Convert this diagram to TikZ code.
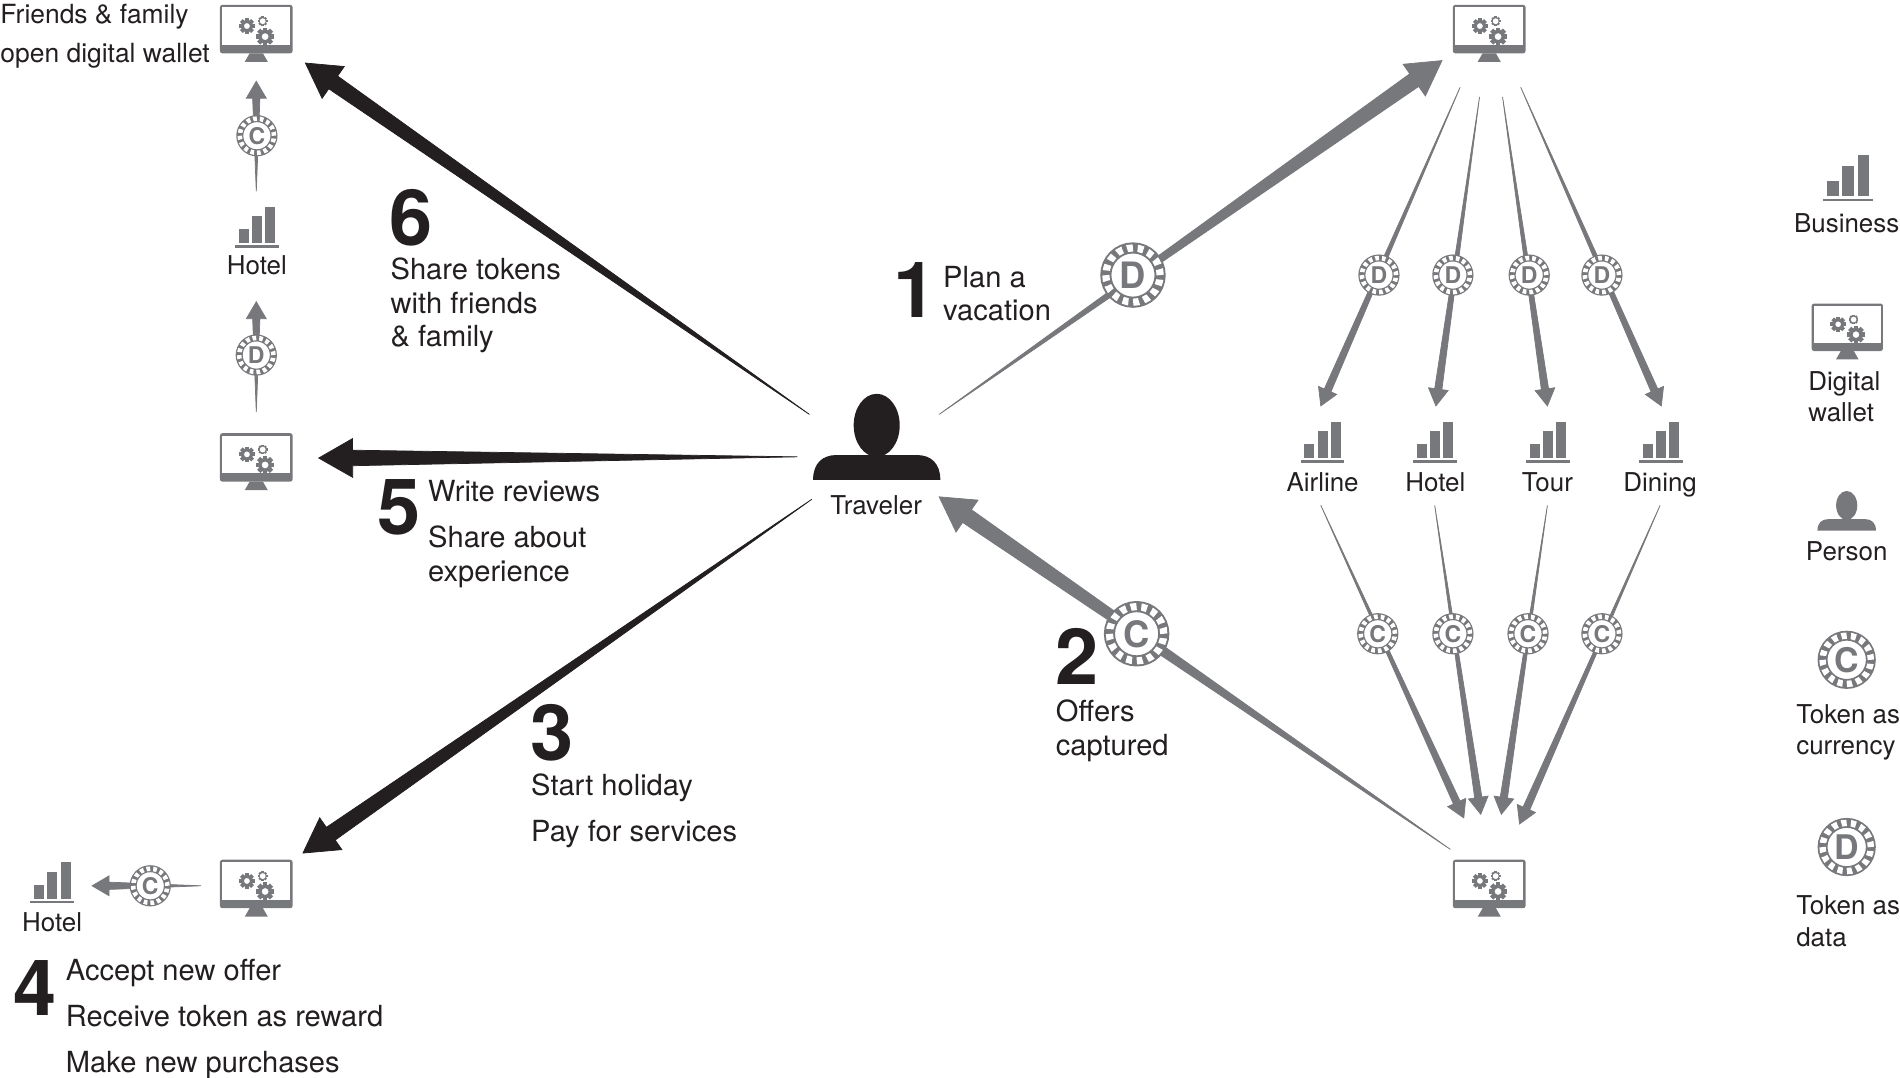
\documentclass[tikz,border=0pt]{standalone}
\usepackage{fontspec}
\setmainfont{TeX Gyre Heros}
\usetikzlibrary{calc}
\definecolor{tokengray}{HTML}{77787B}
\definecolor{ink}{HTML}{231F20}

% one tapering arrow, thin at the start
\newcommand{\tokenflow}[6]{
  \coordinate (fa) at #2;
  \coordinate (fb) at #3;
  \coordinate (fc) at ($(fb)!#4!(fa)$);
  \filldraw[#1, line width=0.3pt] (fa) -- ($(fc)!#6!90:(fa)$) -- ($(fc)!#5!90:(fa)$) -- (fb)
    -- ($(fc)!#5!-90:(fa)$) -- ($(fc)!#6!-90:(fa)$) -- cycle;
}
\newcommand{\bigflow}[3]{\tokenflow{#1}{#2}{#3}{14pt}{8pt}{3.2pt}}
\newcommand{\smallflow}[2]{\tokenflow{tokengray}{#1}{#2}{7pt}{4.1pt}{1.5pt}}
\newcommand{\gearicon}[2]{
  \foreach \a in {0,45,...,315}
    \draw[tokengray, line width={#2*.25pt}] ([shift={#1}]\a:#2*.6) -- ([shift={#1}]\a:#2);
  \draw[tokengray, line width={#2*.2pt}] #1 circle (#2*.6);
}

\tikzset{
  chip/.style={circle, text=tokengray, inner sep=0, minimum size=#1*.83pt,
    preaction={fill=white, draw=none},
    preaction={draw=tokengray, solid, line width=#1*.17pt},
    draw=white, line width=#1*.11pt, dash pattern=on #1*.09pt off #1*.073pt},
  chipbig/.style={chip=27, font=\fontsize{15}{15}\selectfont\bfseries},
  chipleg/.style={chip=24, font=\fontsize{14}{14}\selectfont\bfseries},
  chipsmall/.style={chip=17, font=\fontsize{9.5}{9.5}\selectfont\bfseries},
  monitor/.style={inner sep=0, minimum width={#1*31pt}, minimum height={#1*24pt},
    path picture={
      \begin{scope}[shift={(path picture bounding box.center)}, x={#1*.5pt}, y={#1*-.5pt}]
        \fill[tokengray, rounded corners=1pt] (-30,-23.5) rectangle (30,16.5);
        \fill[white] (-28,-21.5) rectangle (28,9.5);
        \fill[tokengray] (-5.5,16.5) -- (5.5,16.5) -- (9.5,23.5) -- (-9.5,23.5) -- cycle;
        \gearicon{(-7.7,-6)}{6.5}
        \gearicon{(7.3,2.7)}{7.5}
        \gearicon{(5.3,-10)}{4}
        \fill[white] (5.3,-10) circle (2.4);
      \end{scope}}},
  bizicon/.style={inner sep=0, minimum width={#1*19pt}, minimum height={#1*17.5pt},
    path picture={
      \begin{scope}[shift={(path picture bounding box.center)}, x={#1*.5pt}, y={#1*-.5pt}]
        \fill[tokengray] (-15,13.3) rectangle (-6.75,1.8);
        \fill[tokengray] (-4,13.3) rectangle (4.25,-9.2);
        \fill[tokengray] (7,13.3) rectangle (15.25,-17);
        \fill[tokengray] (-18,15) rectangle (18,17);
      \end{scope}}},
  person/.style 2 args={inner sep=0, minimum width={#1*106pt*.5}, minimum height={#1*72pt*.5},
    path picture={
      \begin{scope}[shift={(path picture bounding box.center)}, x={#1*.5pt}, y={#1*-.5pt}]
        \fill[#2] (0,-9.5) ellipse (19 and 26);
        \fill[#2] (-52.5,35.5) .. controls (-52.5,22) and (-45,15) .. (-33,15) -- (33,15)
          .. controls (45,15) and (52.5,22) .. (52.5,35.5) -- cycle;
      \end{scope}}},
  flowtext/.style={anchor=north west, inner sep=0, align=left, text=ink, font=\fontsize{12}{14}\selectfont},
  icontext/.style={inner sep=0, align=left, text=ink, font=\fontsize{10.7}{13}\selectfont},
  stepnum/.style={anchor=north west, inner sep=0, text=ink, font=\fontsize{32}{32}\selectfont\bfseries}
}

\begin{document}
\begin{tikzpicture}[x=0.5pt, y=-0.5pt]
  \useasboundingbox (0,0) rectangle (1568,889.6);

  \node[person={1}{ink}] (traveler) at (723.5,360.5) {};
  \node[icontext] (travelertxt) at (723,417) {Traveler};

  \node[monitor=1] (wtop) at (1229,27.5) {};
  \node[monitor=1] (wbot) at (1229,733) {};
  \node[monitor=1] (wfam) at (211.5,27.5) {};
  \node[monitor=1] (wmid) at (211.5,381) {};
  \node[monitor=1] (wlow) at (211.5,733) {};

  \node[bizicon=1] (airline) at (1091.5,365) {};
  \node[bizicon=1] (hotel) at (1184,365) {};
  \node[bizicon=1] (tour) at (1277.5,365) {};
  \node[bizicon=1] (dining) at (1370.5,365) {};
  \node[bizicon=1] (hotelup) at (212,187.5) {};
  \node[bizicon=1] (hotellow) at (43,728.5) {};
  \node[icontext] (airlinetxt) at (1091.5,398) {Airline};
  \node[icontext] (hoteltxt) at (1184.5,398) {Hotel};
  \node[icontext] (tourtxt) at (1277,398) {Tour};
  \node[icontext] (diningtxt) at (1370,400) {Dining};
  \node[icontext] (hoteluptxt) at (212,219) {Hotel};
  \node[icontext] (hotellowtxt) at (43,761) {Hotel};

  % traveler arrows
  \bigflow{tokengray}{([shift={(51.5,-18.5)}]traveler.center)}{([shift={(-39,22.5)}]wtop.center)}
  \bigflow{tokengray}{([shift={(-32,-32)}]wbot.center)}{([shift={(51.5,49.5)}]traveler.center)}
  \bigflow{ink}{([shift={(-53.5,51.5)}]traveler.center)}{([shift={(38.5,-29)}]wlow.center)}
  \bigflow{ink}{([shift={(-65.5,16.5)}]traveler.center)}{([shift={(51.5,-3)}]wmid.center)}
  \bigflow{ink}{([shift={(-55.5,-18.5)}]traveler.center)}{([shift={(40.5,24.5)}]wfam.center)}

  % wallet to businesses
  \smallflow{([shift={(-24,44.5)}]wtop.center)}{([shift={(-1.5,-30)}]airline.center)}
  \smallflow{([shift={(-8,52.5)}]wtop.center)}{([shift={(1,-30)}]hotel.center)}
  \smallflow{([shift={(11,52.5)}]wtop.center)}{([shift={(-.5,-30)}]tour.center)}
  \smallflow{([shift={(26,44.5)}]wtop.center)}{([shift={(.5,-30)}]dining.center)}

  % businesses to wallet
  \smallflow{([shift={(-1.5,52)}]airline.center)}{([shift={(-21,-58)}]wbot.center)}
  \smallflow{([shift={(0,52)}]hotel.center)}{([shift={(-7,-61)}]wbot.center)}
  \smallflow{([shift={(-.5,52)}]tour.center)}{([shift={(10,-61)}]wbot.center)}
  \smallflow{([shift={(-.5,52)}]dining.center)}{([shift={(25,-53)}]wbot.center)}

  % left column
  \smallflow{([shift={(0,-41)}]wmid.center)}{([shift={(-.5,61.5)}]hotelup.center)}
  \smallflow{([shift={(-.5,-29.5)}]hotelup.center)}{([shift={(0,39.5)}]wfam.center)}
  \smallflow{([shift={(-45.5,-2)}]wlow.center)}{([shift={(33,2.5)}]hotellow.center)}

  % tokens on the arrows
  \node[chipbig] (dtrip) at (935,227) {D};
  \node[chipbig] (coffer) at (938,523) {C};
  \node[chipsmall] (dair) at (1138,227) {D};
  \node[chipsmall] (dhot) at (1199,227) {D};
  \node[chipsmall] (dtou) at (1262,227) {D};
  \node[chipsmall] (ddin) at (1322,227) {D};
  \node[chipsmall] (cair) at (1137,523) {C};
  \node[chipsmall] (chot) at (1199,523) {C};
  \node[chipsmall] (ctou) at (1261,523) {C};
  \node[chipsmall] (cdin) at (1322,523) {C};
  \node[chipsmall] (cfam) at (212,112) {C};
  \node[chipsmall] (dmid) at (211.5,293) {D};
  \node[chipsmall] (clow) at (124,731) {C};

  % step texts
  \node[stepnum] (n1) at (737,216) {1};
  \node[flowtext] (t1) at (778,219) {Plan a\\vacation};
  \node[stepnum] (n2) at (871,518) {2};
  \node[flowtext] (t2) at (871,577) {Offers\\captured};
  \node[stepnum] (n3) at (437,581) {3};
  \node[flowtext] (t3) at (438,638) {Start holiday\\[5pt]Pay for services};
  \node[stepnum] (n4) at (11,792) {4};
  \node[flowtext] (t4) at (54,791) {Accept new offer\\[5pt]Receive token as reward\\[5pt]Make new purchases};
  \node[stepnum] (n5) at (311,395) {5};
  \node[flowtext] (t5) at (353,396) {Write reviews\\[5pt]Share about\\experience};
  \node[stepnum] (n6) at (321,156) {6};
  \node[flowtext] (t6) at (322,212) {Share tokens\\with friends\\\& family};
  \node[flowtext, font=\fontsize{10.9}{14}\selectfont] (t7) at (0,3) {Friends \& family\\[2pt]open digital wallet};

  % legend
  \node[bizicon=1.13] (legbiz) at (1525,147) {};
  \node[icontext] (legbiztxt) at (1524,184) {Business};
  \node[monitor=.98] (legwal) at (1524.5,273.5) {};
  \node[icontext, anchor=north west] (legwaltxt) at (1492,306) {Digital\\wallet};
  \node[person={.46}{tokengray}] (legper) at (1524,421.5) {};
  \node[icontext] (legpertxt) at (1524,455) {Person};
  \node[chipleg] (legcur) at (1524,544.5) {C};
  \node[icontext, anchor=north west] (legcurtxt) at (1482,581) {Token as\\currency};
  \node[chipleg] (legdat) at (1524,699) {D};
  \node[icontext, anchor=north west] (legdattxt) at (1482,739) {Token as\\data};
\end{tikzpicture}
\end{document}
